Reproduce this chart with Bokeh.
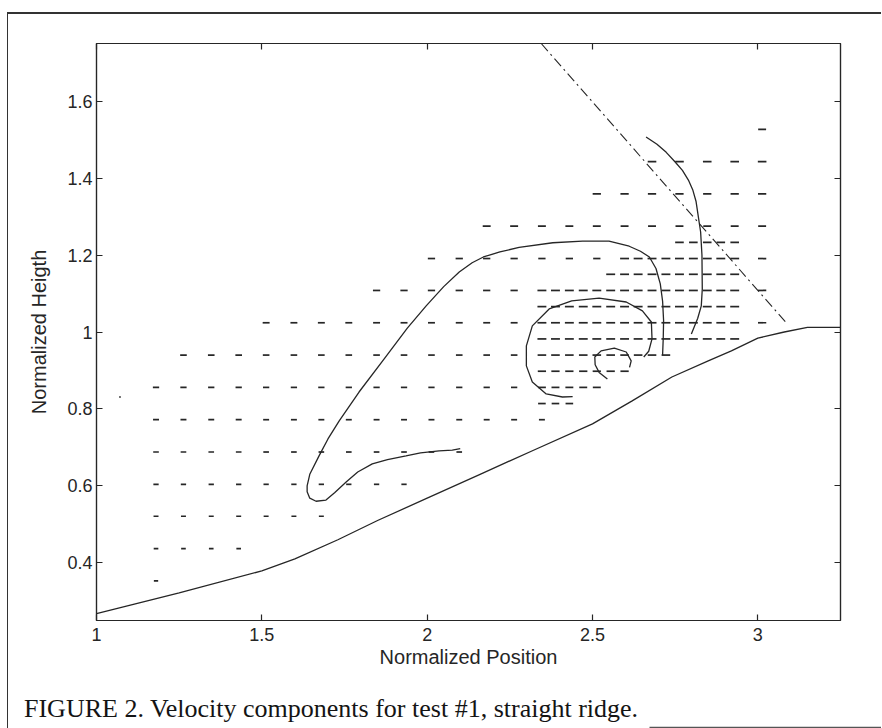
from bokeh.plotting import figure
from bokeh.layouts import column
from bokeh.models import Range1d, LinearAxis, FixedTicker
from bokeh.embed import file_html
from bokeh.resources import INLINE
from bokeh.core.properties import value

# ---- velocity field sample grid -------------------------------------------
# coarse columns and the refined columns near the ridge crest
col_coarse = [1.180, 1.263, 1.347, 1.430, 1.513, 1.597, 1.680, 1.763, 1.847,
              1.930, 2.013, 2.097, 2.180, 2.263, 2.347, 2.430, 2.513, 2.597,
              2.680, 2.763, 2.847, 2.930, 3.013]
col_fine = [2.347, 2.388, 2.430, 2.472, 2.513, 2.555, 2.597, 2.638, 2.680,
            2.722, 2.763, 2.805, 2.847, 2.888, 2.930]

# coarse rows: height, first/last column index, horizontal component
coarse_y = [0.353, 0.437, 0.521, 0.604, 0.688, 0.772, 0.856, 0.940, 1.024,
            1.024, 1.108, 1.108, 1.191, 1.191, 1.275, 1.359, 1.443, 1.527]
coarse_first = [0, 0, 0, 0, 0, 0, 0, 1, 4, 22, 8, 22, 10, 22, 12, 16, 18, 22]
coarse_last = [0, 3, 6, 9, 11, 14, 13, 13, 13, 22, 13, 22, 16, 22, 22, 22, 22, 22]
coarse_u = [0.013, 0.014, 0.015, 0.016, 0.017, 0.018, 0.019, 0.020, 0.021,
            0.025, 0.022, 0.025, 0.022, 0.025, 0.024, 0.025, 0.026, 0.024]

# refined rows
fine_y = [0.814, 0.856, 0.898, 0.940, 0.982, 1.024, 1.066, 1.108, 1.150, 1.191, 1.233]
fine_first = [0, 0, 0, 0, 0, 0, 0, 0, 5, 6, 10]
fine_last = [2, 4, 6, 9, 14, 14, 14, 14, 14, 14, 14]
fine_u = [0.023, 0.024, 0.025, 0.026, 0.027, 0.027, 0.027, 0.027, 0.027, 0.027, 0.026]

# reference vector
ref_x = [1.071]
ref_y = [0.831]
ref_u = [0.005]

# ---- curves ------------------------------------------------------------------
terrain_x = [1.00, 1.25, 1.50, 1.60, 1.73, 1.85, 2.00, 2.16, 2.32, 2.50, 2.62,
             2.74, 2.85, 2.92, 3.00, 3.08, 3.15, 3.25]
terrain_y = [0.268, 0.322, 0.379, 0.410, 0.460, 0.510, 0.568, 0.630, 0.692,
             0.761, 0.821, 0.883, 0.925, 0.951, 0.984, 1.000, 1.012, 1.012]

loop_x = [2.100, 2.076, 2.036, 1.980, 1.936, 1.880, 1.834, 1.790, 1.755, 1.720,
          1.694, 1.664, 1.645, 1.637, 1.637, 1.645, 1.673, 1.700, 1.734, 1.794,
          1.870, 1.940, 1.997, 2.050, 2.097, 2.136, 2.170, 2.220, 2.278, 2.380,
          2.470, 2.550, 2.611, 2.645, 2.672, 2.692, 2.705, 2.712, 2.715, 2.714,
          2.712]
loop_y = [0.697, 0.693, 0.691, 0.686, 0.678, 0.668, 0.657, 0.636, 0.610, 0.582,
          0.563, 0.560, 0.568, 0.585, 0.600, 0.630, 0.678, 0.722, 0.769, 0.844,
          0.930, 1.010, 1.068, 1.118, 1.156, 1.180, 1.195, 1.208, 1.220, 1.232,
          1.236, 1.236, 1.223, 1.210, 1.195, 1.165, 1.125, 1.080, 1.030, 0.985,
          0.940]

spiral_x = [2.655, 2.670, 2.680, 2.678, 2.651, 2.602, 2.520, 2.437, 2.369,
            2.318, 2.300, 2.300, 2.318, 2.360, 2.409, 2.440]
spiral_y = [0.935, 0.950, 0.982, 1.026, 1.055, 1.078, 1.088, 1.081, 1.060,
            1.016, 0.964, 0.912, 0.870, 0.839, 0.831, 0.832]

eddy_x = [2.545, 2.520, 2.508, 2.507, 2.526, 2.566, 2.602, 2.617, 2.612]
eddy_y = [0.878, 0.895, 0.915, 0.935, 0.951, 0.958, 0.948, 0.925, 0.908]

lee_x = [2.662, 2.695, 2.723, 2.750, 2.772, 2.790, 2.803, 2.813, 2.820, 2.827,
         2.831, 2.832, 2.829, 2.818, 2.806, 2.799]
lee_y = [1.507, 1.488, 1.467, 1.442, 1.420, 1.395, 1.370, 1.340, 1.300, 1.260,
         1.200, 1.112, 1.068, 1.035, 1.010, 0.995]

divider_x = [2.345, 3.085]
divider_y = [1.750, 1.025]

x_ticks = [1, 1.5, 2, 2.5, 3]
y_ticks = [0.4, 0.6, 0.8, 1.0, 1.2, 1.4, 1.6]
x_labels = {1: "1", 1.5: "1.5", 2: "2", 2.5: "2.5", 3: "3"}
y_labels = {0.4: "0.4", 0.6: "0.6", 0.8: "0.8", 1.0: "1", 1.2: "1.2", 1.4: "1.4", 1.6: "1.6"}

CAPTION = "FIGURE 2. Velocity components for test #1, straight ridge."

INK = "#262626"
SANS = "Liberation Sans"

# ---- build the arrow segments -----------------------------------------------
x0, x1, y0, y1 = [], [], [], []


def add_row(cols, y, first, last, u):
    for k in range(first, last + 1):
        x0.append(cols[k] - u / 2)
        x1.append(cols[k] + u / 2)
        y0.append(y)
        y1.append(y)


for y, a, b, u in zip(coarse_y, coarse_first, coarse_last, coarse_u):
    add_row(col_coarse, y, a, b, u)
for y, a, b, u in zip(fine_y, fine_first, fine_last, fine_u):
    add_row(col_fine, y, a, b, u)
for x, y, u in zip(ref_x, ref_y, ref_u):
    x0.append(x - u / 2)
    x1.append(x + u / 2)
    y0.append(y)
    y1.append(y)

# ---- main plot ---------------------------------------------------------------
p = figure(width=873, height=666, x_range=Range1d(1.0, 3.25), y_range=Range1d(0.25, 1.75),
           output_backend="svg", toolbar_location=None,
           min_border_left=88, min_border_right=41, min_border_top=29, min_border_bottom=60)
p.frame_align = False
p.background_fill_color = "white"
p.border_fill_color = "white"
p.outline_line_color = INK
p.outline_line_width = 1.2
p.xgrid.visible = False
p.ygrid.visible = False

p.segment(x0, y0, x1, y1, line_color=INK, line_width=1.7)

p.line(terrain_x, terrain_y, line_color=INK, line_width=1.3)
p.line(loop_x, loop_y, line_color=INK, line_width=1.3)
p.line(spiral_x, spiral_y, line_color=INK, line_width=1.3)
p.line(eddy_x, eddy_y, line_color=INK, line_width=1.3)
p.line(lee_x, lee_y, line_color=INK, line_width=1.3)
p.line(divider_x, divider_y, line_color=INK, line_width=1.1, line_dash="10 4 2 4")


def style_axis(ax, ticks, labels, shown=True):
    ax.ticker = FixedTicker(ticks=ticks)
    ax.major_tick_in = 6
    ax.major_tick_out = 0
    ax.minor_tick_line_color = None
    ax.axis_line_color = INK
    ax.axis_line_width = 1.2
    ax.major_tick_line_color = INK
    ax.major_tick_line_width = 1.2
    ax.major_label_text_font = SANS
    ax.major_label_text_font_size = "18px"
    ax.major_label_text_color = INK
    ax.axis_label_text_font = SANS
    ax.axis_label_text_font_size = "20px"
    ax.axis_label_text_font_style = "normal"
    ax.axis_label_text_color = INK
    if shown:
        ax.major_label_overrides = labels
    else:
        ax.major_label_overrides = {t: "" for t in ticks}


style_axis(p.xaxis[0], x_ticks, x_labels)
style_axis(p.yaxis[0], y_ticks, y_labels)
p.xaxis[0].axis_label = "Normalized Position"
p.yaxis[0].axis_label = "Normalized Heigth"
p.xaxis[0].major_label_standoff = 7
p.xaxis[0].axis_label_standoff = 2
p.yaxis[0].major_label_standoff = 4
p.yaxis[0].axis_label_standoff = 14

top_axis = LinearAxis()
style_axis(top_axis, x_ticks, x_labels, shown=False)
p.add_layout(top_axis, "above")
right_axis = LinearAxis()
style_axis(right_axis, y_ticks, y_labels, shown=False)
p.add_layout(right_axis, "right")

# ---- caption strip (pixel-sized ranges) -------------------------------------
cap = figure(width=873, height=48, x_range=Range1d(0, 873), y_range=Range1d(0, 48),
             x_axis_type=None, y_axis_type=None, output_backend="svg",
             toolbar_location=None, min_border=0)
cap.frame_align = False
cap.outline_line_color = None
cap.xgrid.visible = False
cap.ygrid.visible = False
cap.text(x=[15.5], y=[20], text=[CAPTION], text_font=value("Liberation Serif"),
         text_font_size="26px", text_color="#141414", text_baseline="alphabetic",
         text_align="left")
# page edge under the right half of the caption line
cap.segment(x0=[641], y0=[1], x1=[873], y1=[1], line_color="#555555", line_width=1.5)

# page edge lines on the left and top
page = column(p, cap, spacing=0, margin=(12, 0, 0, 7),
              styles={"border-left": "1.5px solid #333333",
                      "border-top": "2px solid #333333"})

open("out.html", "w").write(file_html(page, INLINE))
